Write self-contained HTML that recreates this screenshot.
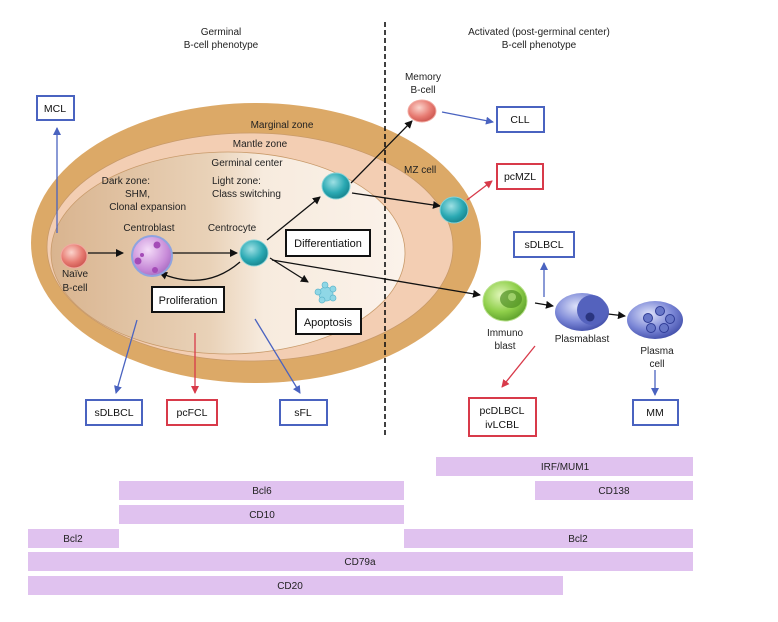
<!DOCTYPE html>
<html><head><meta charset="utf-8"><style>
body{margin:0;background:#fff;width:778px;height:622px;overflow:hidden}
svg{display:block;font-family:"Liberation Sans",sans-serif}
</style></head><body>
<svg width="778" height="622" viewBox="0 0 778 622">
<defs>
<linearGradient id="gc" x1="0" x2="1" y1="0" y2="0">
<stop offset="0" stop-color="#d9b48f"/><stop offset="0.45" stop-color="#e9d2b8"/><stop offset="0.6" stop-color="#f7ebde"/><stop offset="1" stop-color="#fbf2ea"/>
</linearGradient>
<radialGradient id="teal" cx="0.4" cy="0.35" r="0.7"><stop offset="0" stop-color="#9ee0e4"/><stop offset="0.6" stop-color="#2aa9b3"/><stop offset="1" stop-color="#16808a"/></radialGradient>
<radialGradient id="pink" cx="0.4" cy="0.35" r="0.7"><stop offset="0" stop-color="#fbd4cc"/><stop offset="0.6" stop-color="#e77b72"/><stop offset="1" stop-color="#c9524c"/></radialGradient>
<radialGradient id="purp" cx="0.4" cy="0.35" r="0.7"><stop offset="0" stop-color="#f4dcf8"/><stop offset="0.7" stop-color="#c78ad8"/><stop offset="1" stop-color="#a46ac0"/></radialGradient>
<radialGradient id="green" cx="0.4" cy="0.35" r="0.7"><stop offset="0" stop-color="#e0f6b8"/><stop offset="0.6" stop-color="#8fcf4a"/><stop offset="1" stop-color="#5a9d2a"/></radialGradient>
<radialGradient id="blue" cx="0.4" cy="0.35" r="0.7"><stop offset="0" stop-color="#dfe3fa"/><stop offset="0.6" stop-color="#7a86d6"/><stop offset="1" stop-color="#3f4ca8"/></radialGradient>
<marker id="ak" markerWidth="8" markerHeight="8" refX="7" refY="4" orient="auto" markerUnits="userSpaceOnUse"><path d="M0,0 L8,4 L0,8 z" fill="#111"/></marker>
<marker id="ab" markerWidth="8" markerHeight="8" refX="7" refY="4" orient="auto" markerUnits="userSpaceOnUse"><path d="M0,0 L8,4 L0,8 z" fill="#4a63c0"/></marker>
<marker id="ar" markerWidth="8" markerHeight="8" refX="7" refY="4" orient="auto" markerUnits="userSpaceOnUse"><path d="M0,0 L8,4 L0,8 z" fill="#d83a4a"/></marker>
</defs>

<ellipse cx="256" cy="243" rx="225" ry="140" fill="#dca967"/>
<ellipse cx="250" cy="247" rx="203" ry="114" fill="#f3ceb3" stroke="#c89a6a" stroke-width="0.8"/>
<ellipse cx="228" cy="253" rx="177" ry="101" fill="url(#gc)" stroke="#c89a6a" stroke-width="0.8"/>

<g font-size="10" fill="#222" text-anchor="middle">
<text x="221" y="35">Germinal</text><text x="221" y="48">B-cell phenotype</text>
<text x="539" y="35">Activated (post-germinal center)</text><text x="539" y="48">B-cell phenotype</text>
<text x="282" y="128">Marginal zone</text>
<text x="260" y="147">Mantle zone</text>
<text x="247" y="166">Germinal center</text>
<text x="423" y="80">Memory</text><text x="423" y="93">B-cell</text>
<text x="75" y="277">Naïve</text><text x="75" y="291">B-cell</text>
<text x="149" y="231">Centroblast</text>
<text x="232" y="231">Centrocyte</text>
<text x="505" y="336">Immuno</text><text x="505" y="349">blast</text>
<text x="582" y="342">Plasmablast</text>
<text x="657" y="354">Plasma</text><text x="657" y="367">cell</text>
</g>
<g font-size="10" fill="#222">
<text x="150" y="184" text-anchor="end">Dark zone:</text>
<text x="150" y="197" text-anchor="end">SHM,</text>
<text x="186" y="210" text-anchor="end">Clonal expansion</text>
<text x="212" y="184">Light zone:</text>
<text x="212" y="197">Class switching</text>
<text x="404" y="173">MZ cell</text>
</g>

<line x1="385" y1="22" x2="385" y2="437" stroke="#111" stroke-width="1.6" stroke-dasharray="5,3"/>

<g stroke="#111" stroke-width="1.3" fill="none">
<line x1="88" y1="253" x2="123" y2="253" marker-end="url(#ak)"/>
<line x1="170" y1="253" x2="237" y2="253" marker-end="url(#ak)"/>
<line x1="267" y1="240" x2="320" y2="197" marker-end="url(#ak)"/>
<path d="M240,262 Q205,292 160,273" marker-end="url(#ak)"/>
<line x1="270" y1="258" x2="308" y2="282" marker-end="url(#ak)"/>
<line x1="351" y1="183" x2="412" y2="121" marker-end="url(#ak)"/>
<line x1="352" y1="193" x2="440" y2="206" marker-end="url(#ak)"/>
<line x1="272" y1="260" x2="480" y2="295" marker-end="url(#ak)"/>
<line x1="535" y1="303" x2="553" y2="306" marker-end="url(#ak)"/>
<line x1="608" y1="314" x2="625" y2="316" marker-end="url(#ak)"/>
</g>
<g stroke="#4a63c0" stroke-width="1.3" fill="none">
<line x1="57" y1="233" x2="57" y2="128" marker-end="url(#ab)"/>
<line x1="137" y1="320" x2="116" y2="393" marker-end="url(#ab)"/>
<line x1="255" y1="319" x2="300" y2="393" marker-end="url(#ab)"/>
<line x1="442" y1="112" x2="493" y2="122" marker-end="url(#ab)"/>
<line x1="544" y1="297" x2="544" y2="263" marker-end="url(#ab)"/>
<line x1="655" y1="370" x2="655" y2="395" marker-end="url(#ab)"/>
</g>
<g stroke="#d83a4a" stroke-width="1.3" fill="none">
<line x1="195" y1="333" x2="195" y2="393" marker-end="url(#ar)"/>
<line x1="467" y1="200" x2="492" y2="181" marker-end="url(#ar)"/>
<line x1="535" y1="346" x2="502" y2="387" marker-end="url(#ar)"/>
</g>

<ellipse cx="74" cy="256" rx="13" ry="12" fill="url(#pink)" stroke="#f1a9a0"/>
<circle cx="152" cy="256" r="20" fill="url(#purp)" stroke="#8fa3e0" stroke-width="2"/>
<circle cx="157" cy="245" r="3.5" fill="#a44bb7"/><circle cx="138" cy="261" r="3.5" fill="#a44bb7"/><circle cx="155" cy="270" r="3" fill="#a44bb7"/><circle cx="142" cy="255" r="2" fill="#a44bb7"/>
<ellipse cx="254" cy="253" rx="14" ry="13" fill="url(#teal)" stroke="#86d2d8"/>
<ellipse cx="336" cy="186" rx="14" ry="13" fill="url(#teal)" stroke="#86d2d8"/>
<ellipse cx="454" cy="210" rx="14" ry="13" fill="url(#teal)" stroke="#86d2d8"/>
<ellipse cx="422" cy="111" rx="14" ry="11" fill="url(#pink)" stroke="#f1a9a0"/>
<g fill="#8fd7e6" stroke="#5fb6cc" stroke-width="0.7">
<circle cx="326" cy="294" r="7"/><circle cx="318" cy="292" r="3"/><circle cx="325" cy="285" r="3"/><circle cx="333" cy="289" r="3"/><circle cx="333" cy="298" r="3"/><circle cx="322" cy="300" r="3"/>
</g>
<ellipse cx="505" cy="301" rx="22" ry="20" fill="url(#green)" stroke="#b7e08a"/>
<ellipse cx="511" cy="299" rx="11" ry="9" fill="#4f8f22" opacity="0.7"/><circle cx="512" cy="297" r="4" fill="#9fd06a"/>
<ellipse cx="582" cy="312" rx="27" ry="19" fill="url(#blue)"/>
<ellipse cx="592" cy="310" rx="15" ry="15" fill="#5462bd"/><circle cx="590" cy="317" r="4.5" fill="#2a357f"/>
<ellipse cx="655" cy="320" rx="28" ry="19" fill="url(#blue)"/>
<g fill="#6877c8" stroke="#2f3c96"><circle cx="660" cy="311" r="4.5"/><circle cx="670" cy="319" r="4.5"/><circle cx="664" cy="328" r="4.5"/><circle cx="651" cy="328" r="4.5"/><circle cx="648" cy="318" r="4.5"/></g>

<g fill="#fff" stroke="#111" stroke-width="2">
<rect x="286" y="230" width="84" height="26"/>
<rect x="152" y="287" width="72" height="25"/>
<rect x="296" y="309" width="65" height="25"/>
</g>
<g font-size="11" fill="#111" text-anchor="middle">
<text x="328" y="247">Differentiation</text>
<text x="188" y="304">Proliferation</text>
<text x="328" y="326">Apoptosis</text>
</g>
<g fill="#fff" stroke="#4a63c0" stroke-width="2">
<rect x="37" y="96" width="37" height="24"/>
<rect x="86" y="400" width="56" height="25"/>
<rect x="280" y="400" width="47" height="25"/>
<rect x="497" y="107" width="47" height="25"/>
<rect x="514" y="232" width="60" height="25"/>
<rect x="633" y="400" width="45" height="25"/>
</g>
<g fill="#fff" stroke="#d83a4a" stroke-width="2">
<rect x="167" y="400" width="50" height="25"/>
<rect x="497" y="164" width="46" height="25"/>
<rect x="469" y="398" width="67" height="38"/>
</g>
<g font-size="10.5" fill="#111" text-anchor="middle">
<text x="55" y="112">MCL</text>
<text x="114" y="416">sDLBCL</text>
<text x="303" y="416">sFL</text>
<text x="520" y="123">CLL</text>
<text x="544" y="248">sDLBCL</text>
<text x="655" y="416">MM</text>
<text x="192" y="416">pcFCL</text>
<text x="520" y="180">pcMZL</text>
<text x="502" y="414">pcDLBCL</text>
<text x="502" y="428">ivLCBL</text>
</g>

<g fill="#e0c2ef">
<rect x="436" y="457" width="257" height="19"/>
<rect x="119" y="481" width="285" height="19"/>
<rect x="535" y="481" width="158" height="19"/>
<rect x="119" y="505" width="285" height="19"/>
<rect x="28" y="529" width="91" height="19"/>
<rect x="404" y="529" width="289" height="19"/>
<rect x="28" y="552" width="665" height="19"/>
<rect x="28" y="576" width="535" height="19"/>
</g>
<g font-size="10" fill="#222" text-anchor="middle">
<text x="565" y="470">IRF/MUM1</text>
<text x="262" y="494">Bcl6</text>
<text x="614" y="494">CD138</text>
<text x="262" y="518">CD10</text>
<text x="73" y="542">Bcl2</text>
<text x="578" y="542">Bcl2</text>
<text x="360" y="565">CD79a</text>
<text x="290" y="589">CD20</text>
</g>
</svg>
</body></html>
